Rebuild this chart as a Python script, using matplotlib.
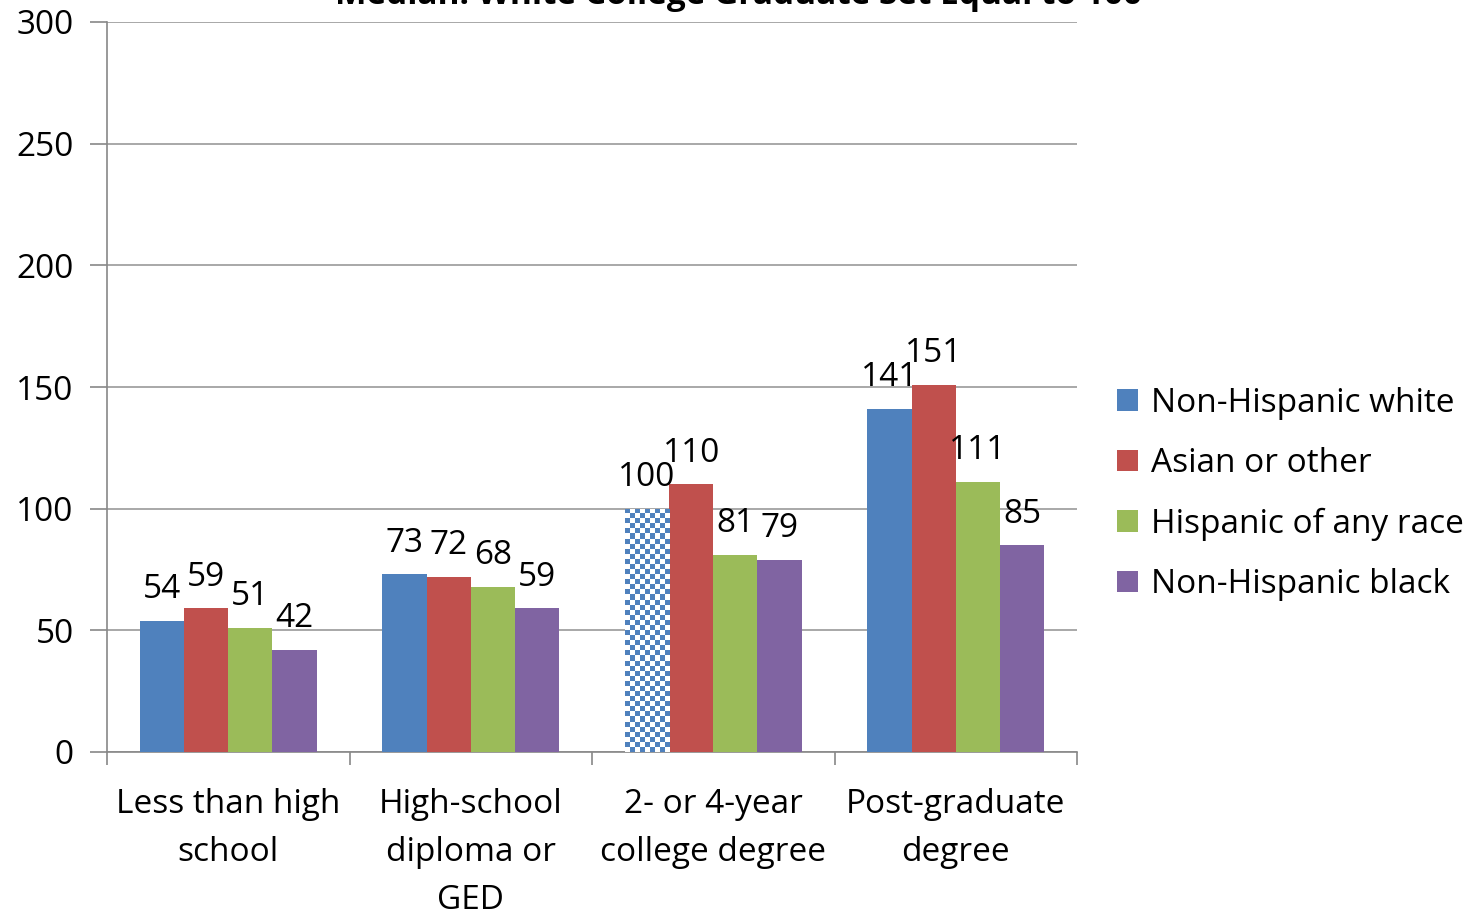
import matplotlib
matplotlib.use("Agg")
import matplotlib.pyplot as plt
import numpy as np

plt.rcParams['font.family'] = ['Open Sans', 'DejaVu Sans']

categories = ["Less than high\nschool", "High-school\ndiploma or\nGED",
              "2- or 4-year\ncollege degree", "Post-graduate\ndegree"]
series = ["Non-Hispanic white", "Asian or other", "Hispanic of any race", "Non-Hispanic black"]
white = [54, 73, 100, 141]
asian = [59, 72, 110, 151]
hispanic = [51, 68, 81, 111]
black = [42, 59, 79, 85]
colors = ['#4F81BD', '#C0504D', '#9BBB59', '#8064A2']
y_ticks = [0, 50, 100, 150, 200, 250, 300]
title = "Median: White College Graduate Set Equal to 100"

values = [white, asian, hispanic, black]

fig = plt.figure(figsize=(14.78, 9.14), dpi=100)
ax = fig.add_axes([107/1478, 1-752/914, (1077-107)/1478, (752-22)/914])

x = np.arange(len(categories))
w = 0.182
fs = 24

for i, (name, vals) in enumerate(zip(series, values)):
    pos = x + (i - 1.5) * w
    bars = ax.bar(pos, vals, width=w, color=colors[i], label=name, zorder=3)
    for b, v in zip(bars, vals):
        ax.annotate(str(v), (b.get_x() + b.get_width()/2, v), xytext=(0, 31),
                    textcoords='offset pixels', ha='center', va='center',
                    fontsize=fs, zorder=5)

# reference bar (white college graduate = 100) drawn as checker pattern
ref = ax.patches[2]
ref.set_facecolor('white')
bx, bw, bh = ref.get_x(), ref.get_width(), ref.get_height()
nx, ny = 9, 48
checker = (np.add.outer(np.arange(ny), np.arange(nx)) % 2).astype(float)
cmap = matplotlib.colors.ListedColormap(['white', colors[0]])
im = ax.imshow(checker, extent=(bx, bx + bw, 0, bh), cmap=cmap, aspect='auto',
               interpolation='nearest', zorder=4, origin='lower')
im.set_clip_path(ref)

ax.set_xlim(-0.5, len(categories) - 0.5)
ax.set_ylim(0, 300)
ax.set_yticks(y_ticks)
ax.set_xticks(x)
ax.set_xticklabels(categories, fontsize=fs, linespacing=1.6)
ax.set_xticks(np.arange(len(categories) + 1) - 0.5, minor=True)
ax.tick_params(axis='x', which='major', length=0, pad=26)
ax.tick_params(axis='x', which='minor', length=9, color='#888888', width=1.2)
ax.tick_params(axis='y', length=12, color='#888888', width=1.2, pad=12, labelsize=fs)
ax.grid(axis='y', color='#999999', lw=1.2, zorder=0)
for s in ['top', 'right']:
    ax.spines[s].set_visible(False)
for s in ['left', 'bottom']:
    ax.spines[s].set_color('#888888')
    ax.spines[s].set_linewidth(1.2)

leg = fig.legend(loc='upper left', bbox_to_anchor=(1087/1478, 1-357/914), frameon=False,
                 fontsize=fs, handlelength=0.62, handleheight=0.62, handletextpad=0.4,
                 labelspacing=0.82)

fig.text(0.5, 1 - 4/914, title, ha='center', va='baseline', fontsize=fs, fontweight='bold')

fig.savefig('out.png', dpi=100)
